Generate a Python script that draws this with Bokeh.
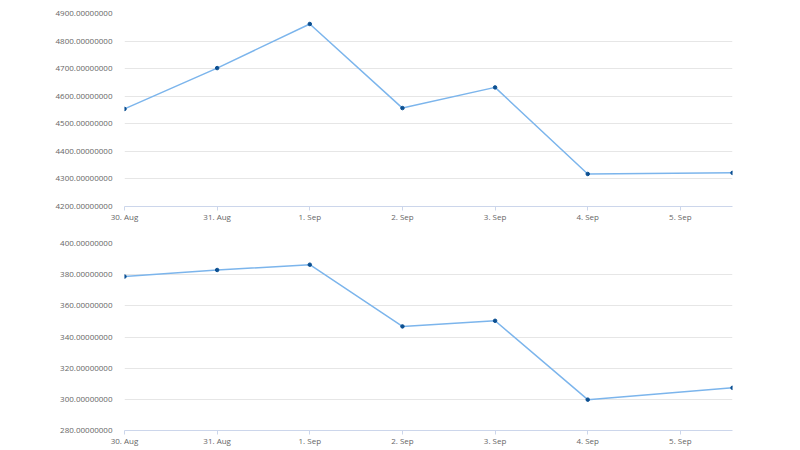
from datetime import datetime
from bokeh.plotting import figure
from bokeh.layouts import column
from bokeh.models import FixedTicker, DatetimeTickFormatter, PrintfTickFormatter, Range1d
from bokeh.embed import file_html
from bokeh.resources import INLINE

# ---- data ----
dates = ["2017-08-30 00:00", "2017-08-31 00:00", "2017-09-01 00:00", "2017-09-02 00:00",
         "2017-09-03 00:00", "2017-09-04 00:00", "2017-09-05 13:30"]
series_top = [4554, 4702, 4862, 4557, 4632, 4318, 4322]
series_bottom = [378.8, 383, 386.4, 346.8, 350.4, 299.8, 307.4]
x_tick_days = ["2017-08-30", "2017-08-31", "2017-09-01", "2017-09-02",
               "2017-09-03", "2017-09-04", "2017-09-05"]
y_ticks_top = [4200, 4300, 4400, 4500, 4600, 4700, 4800, 4900]
y_ticks_bottom = [280, 300, 320, 340, 360, 380, 400]
y_range_top = (4200, 4900)
y_range_bottom = (280, 400)

xs = [datetime.strptime(d, "%Y-%m-%d %H:%M") for d in dates]
x_ticks_ms = [datetime.strptime(d, "%Y-%m-%d").timestamp() * 1000 for d in x_tick_days]

LINE = "#7cb5ec"
MARK = "#0b4f91"
GRID = "#e6e6e6"
AXIS = "#ccd6eb"
TXT = "#666666"
FONT = "Open Sans"


def make(values, yr, yticks, height, top, bottom):
    p = figure(width=790, height=height, x_axis_type="datetime",
               output_backend="svg", toolbar_location=None,
               x_range=Range1d(xs[0], xs[-1]), y_range=Range1d(*yr),
               min_border_left=124, min_border_right=58,
               min_border_top=top, min_border_bottom=bottom)
    p.outline_line_color = None
    p.xgrid.grid_line_color = None
    p.ygrid.grid_line_color = GRID
    p.ygrid.ticker = FixedTicker(ticks=yticks)
    p.line(xs, values, line_color=LINE, line_width=1.5)
    p.scatter(xs, values, size=3.5, color=MARK)

    xa = p.xaxis[0]
    xa.ticker = FixedTicker(ticks=x_ticks_ms)
    xa.formatter = DatetimeTickFormatter(days="%-d. %b", months="%-d. %b", hours="%-d. %b")
    xa.axis_line_color = AXIS
    xa.major_tick_line_color = AXIS
    xa.major_tick_out = 4
    xa.major_tick_in = 0
    xa.minor_tick_line_color = None
    xa.major_label_standoff = 0
    xa.major_label_text_font = FONT
    xa.major_label_text_font_size = "8px"
    xa.major_label_text_color = TXT

    ya = p.yaxis[0]
    ya.ticker = FixedTicker(ticks=yticks)
    ya.formatter = PrintfTickFormatter(format="%.8f")
    ya.axis_line_color = None
    ya.major_tick_line_color = None
    ya.minor_tick_line_color = None
    ya.major_label_standoff = 6
    ya.major_label_text_font = FONT
    ya.major_label_text_font_size = "8px"
    ya.major_label_text_color = TXT
    return p


p1 = make(series_top, y_range_top, y_ticks_top, 227, 13, 21)
p2 = make(series_bottom, y_range_bottom, y_ticks_bottom, 222, 16, 19)
layout = column(p1, p2, spacing=0)

open("out.html", "w").write(file_html(layout, INLINE))
